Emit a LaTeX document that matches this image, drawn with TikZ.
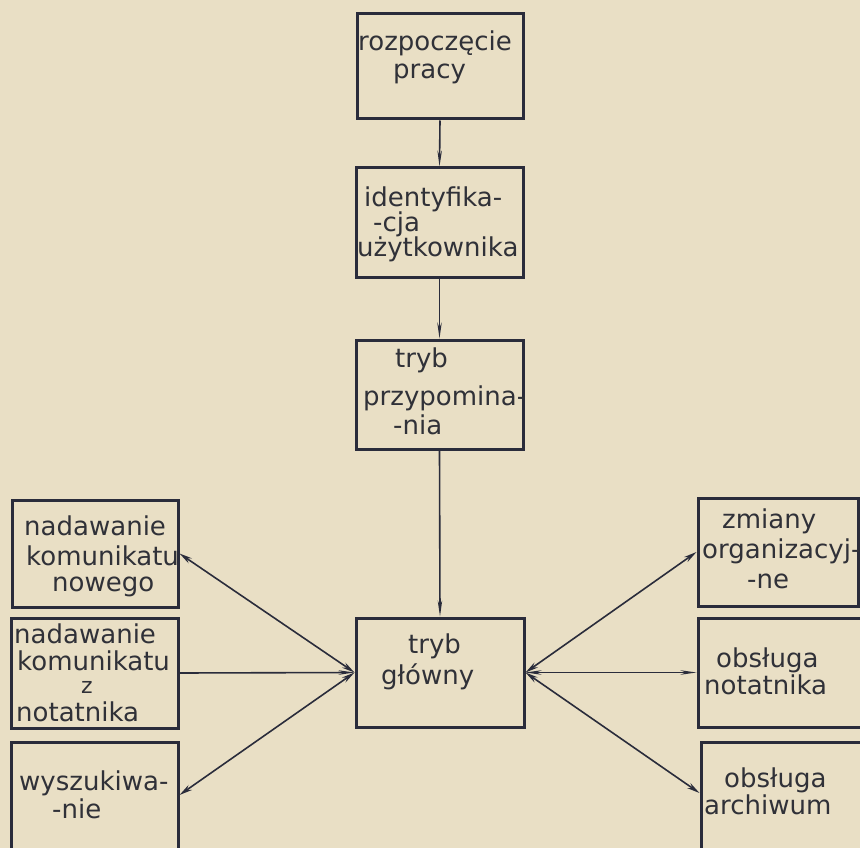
\documentclass[tikz,border=0pt]{standalone}
\usepackage{fontspec}
\setmainfont{DejaVu Sans}
\usetikzlibrary{arrows.meta}
\definecolor{paper}{HTML}{E9DFC5}
\definecolor{ink}{HTML}{2A2C3B}
\definecolor{txt}{HTML}{303138}
\tikzset{
  box/.style={draw=ink, line width=3pt, rectangle, inner sep=0pt},
  lbl/.style={anchor=base west, inner sep=0pt, text=txt, font=\fontsize{26}{28}\selectfont},
  conn/.style={draw=ink, line width=1.6pt},
  thin tip/.style={-{Stealth[length=16pt,width=4.5pt]}},
  diag/.style={{Stealth[length=13pt,width=6pt]}-{Stealth[length=13pt,width=6pt]}},
}
\begin{document}
\begin{tikzpicture}[x=1pt,y=-1pt]
\clip (0,0) rectangle (860,848);
\fill[paper] (0,0) rectangle (860,848);

% boxes
\node[box, minimum width=166pt, minimum height=105pt] (r)  at (440,66.5) {};
\node[box, minimum width=167pt, minimum height=109pt] (id) at (439.5,222.5) {};
\node[box, minimum width=167pt, minimum height=109pt] (pr) at (439.5,394.5) {};
\node[box, minimum width=168pt, minimum height=109pt] (gl) at (440,672.5) {};
\node[box, minimum width=166pt, minimum height=107pt] (L1) at (95,553.5) {};
\node[box, minimum width=167pt, minimum height=110pt] (L2) at (94.5,673) {};
\node[box, minimum width=167pt, minimum height=128pt] (L3) at (94.5,806) {};
\node[box, minimum width=160pt, minimum height=108pt] (R1) at (778,552) {};
\node[box, minimum width=172pt, minimum height=109pt] (R2) at (784,672.5) {};
\node[box, minimum width=169pt, minimum height=128pt] (R3) at (785.5,806) {};

% texts
\node[lbl] (r1) at (358,51) {rozpoczęcie};
\node[lbl] (r2) at (393,79) {pracy};
\node[lbl] (id1) at (364,207) {identyfika-};
\node[lbl] (id2) at (373,231) {-cja};
\node[lbl] (id3) at (357,256) {użytkownika};
\node[lbl] (pr1) at (395,367) {tryb};
\node[lbl] (pr2) at (363,405) {przypomina-};
\node[lbl] (pr3) at (393,434) {-nia};
\node[lbl] (gl1) at (408,653) {tryb};
\node[lbl] (gl2) at (381,684) {główny};
\node[lbl] (L1a) at (24,535) {nadawanie};
\node[lbl] (L1b) at (26,565) {komunikatu};
\node[lbl] (L1c) at (52,591) {nowego};
\node[lbl] (L2a) at (14,643) {nadawanie};
\node[lbl] (L2b) at (17,670) {komunikatu};
\node[lbl, font=\fontsize{22}{24}\selectfont] (L2c) at (81,693) {z};
\node[lbl] (L2d) at (16,721) {notatnika};
\node[lbl] (L3a) at (19,790) {wyszukiwa-};
\node[lbl] (L3b) at (52,818) {-nie};
\node[lbl] (R1a) at (722,528) {zmiany};
\node[lbl] (R1b) at (702,558) {organizacyj-};
\node[lbl] (R1c) at (747,588) {-ne};
\node[lbl] (R2a) at (716,667) {obsługa};
\node[lbl] (R2b) at (704,694) {notatnika};
\node[lbl] (R3a) at (724,787) {obsługa};
\node[lbl] (R3b) at (704,814) {archiwum};

% connectors
\draw[conn, thin tip] (r.south) -- (id.north);
\draw[conn, thin tip] (id.south) -- (pr.north);
\draw[conn, thin tip] (pr.south) -- (gl.north);
\draw[conn, diag] (L1.east) -- (gl.west);
\draw[conn, thin tip] (L2.east) -- (gl.west);
\draw[conn, diag] ([yshift=11pt]L3.east) -- (gl.west);
\draw[conn, diag] (R1.west) -- (gl.east);
\draw[conn, {Stealth[length=16pt,width=4.5pt]}-{Stealth[length=16pt,width=4.5pt]}] (R2.west) -- (gl.east);
\draw[conn, diag] ([yshift=13pt]R3.west) -- (gl.east);
\end{tikzpicture}
\end{document}
